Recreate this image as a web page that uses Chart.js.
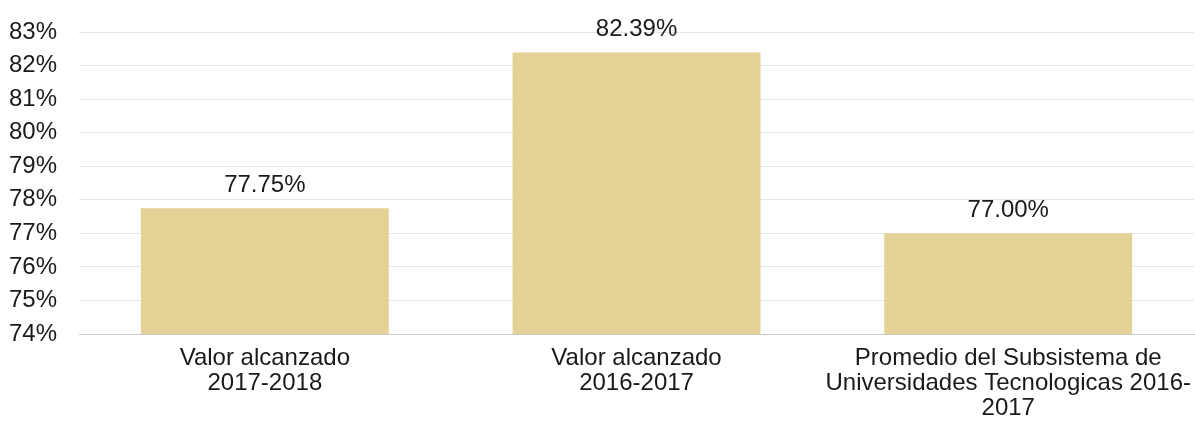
<!DOCTYPE html>
<html>
<head>
<meta charset="utf-8">
<script src="https://cdn.jsdelivr.net/npm/chart.js@4"></script>
<style>
    html, body { margin: 0; padding: 0; background: #fff; }
    #wrap { width: 1195px; height: 425px; }
</style>
</head>
<body>
<div id="wrap"><canvas id="chart"></canvas></div>
<script>
const categories = [
    ["Valor alcanzado", "2017-2018"],
    ["Valor alcanzado", "2016-2017"],
    ["Promedio del Subsistema de", "Universidades Tecnologicas 2016-", "2017"]
];
const values = [77.75, 82.39, 77.00];
const valueLabels = ["77.75%", "82.39%", "77.00%"];
const yMin = 74;
const yMax = 83;

const fontFamily = "'Liberation Sans', Arial, sans-serif";
const fontSize = 24;

// value labels above each bar
const barLabels = {
    id: "barLabels",
    afterDatasetsDraw(chart) {
        const ctx = chart.ctx;
        const meta = chart.getDatasetMeta(0);
        ctx.save();
        ctx.font = fontSize + "px " + fontFamily;
        ctx.fillStyle = "#1a1a1a";
        ctx.textAlign = "center";
        ctx.textBaseline = "alphabetic";
        meta.data.forEach((bar, i) => {
            ctx.fillText(valueLabels[i], bar.x, bar.y - 16);
        });
        ctx.restore();
    }
};

new Chart(document.getElementById("chart"), {
    type: "bar",
    data: {
        labels: categories,
        datasets: [{
            data: values,
            backgroundColor: "#e3d196",
            barPercentage: 0.667,
            categoryPercentage: 1
        }]
    },
    options: {
        responsive: true,
        maintainAspectRatio: false,
        animation: false,
        layout: { padding: { top: 32, right: 0, left: 0, bottom: 0 } },
        plugins: {
            legend: { display: false },
            tooltip: { enabled: false }
        },
        scales: {
            x: {
                grid: { display: false },
                border: { display: true, color: "#c8c8c8", width: 1 },
                ticks: {
                    color: "#1a1a1a",
                    font: { family: fontFamily, size: fontSize, lineHeight: 25 / 24 },
                    maxRotation: 0,
                    autoSkip: false,
                    padding: 4
                }
            },
            y: {
                min: yMin,
                max: yMax,
                z: 1,
                afterFit: scale => {
                    scale.width = 79;
                    scale.paddingTop = 0;
                },
                grid: {
                    color: ctx => ctx.index === 0 ? "#c8c8c8" : "rgba(180,180,180,0.33)",
                    drawTicks: false
                },
                border: { display: false },
                ticks: {
                    stepSize: 1,
                    color: "#1a1a1a",
                    font: { family: fontFamily, size: fontSize },
                    padding: 22,
                    callback: v => v + "%"
                }
            }
        }
    },
    plugins: [barLabels]
});
</script>
</body>
</html>
